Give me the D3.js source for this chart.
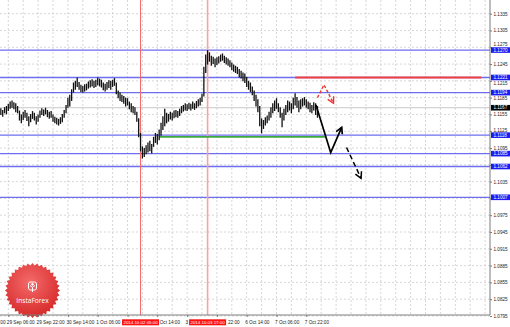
<!DOCTYPE html>
<html><head><meta charset="utf-8">
<script src="https://cdn.jsdelivr.net/npm/d3@7"></script>
<style>html,body{margin:0;padding:0;background:#fff;overflow:hidden}</style>
</head><body><svg id="c" width="510" height="327"></svg>
<script>
// ---- data (hourly bars, index 0 = 29 Sep 06:00) ----
const barStart = -4;
const lows = [
1.1155,1.1152,1.1158,1.1156,1.1162,1.1166,1.1168,1.1165,1.1160,1.1158,
1.1145,1.1140,1.1146,1.1150,1.1144,1.1135,1.1142,1.1148,1.1145,1.1138,
1.1143,1.1150,1.1155,1.1153,1.1156,1.1151,1.1148,1.1150,1.1143,1.1140,
1.1138,1.1136,1.1139,1.1142,1.1150,1.1158,1.1168,1.1170,1.1180,1.1195,
1.1200,1.1205,1.1200,1.1196,1.1195,1.1197,1.1199,1.1202,1.1204,1.1206,
1.1203,1.1205,1.1208,1.1206,1.1204,1.1199,1.1197,1.1200,1.1203,1.1200,
1.1205,1.1207,1.1192,1.1185,1.1180,1.1178,1.1175,1.1170,1.1172,1.1165,
1.1160,1.1158,1.1155,1.1143,1.1115,1.1090,1.1077,1.1080,1.1085,1.1088,
1.1090,1.1086,1.1098,1.1105,1.1102,1.1110,1.1118,1.1128,1.1135,1.1140,
1.1143,1.1147,1.1145,1.1149,1.1151,1.1150,1.1153,1.1158,1.1161,1.1163,
1.1162,1.1165,1.1163,1.1166,1.1164,1.1167,1.1170,1.1172,1.1178,1.1188,
1.1230,1.1245,1.1250,1.1243,1.1246,1.1240,1.1244,1.1247,1.1250,1.1252,
1.1248,1.1245,1.1243,1.1240,1.1235,1.1232,1.1230,1.1228,1.1222,1.1220,
1.1215,1.1212,1.1205,1.1200,1.1196,1.1190,1.1180,1.1170,1.1160,1.1135,
1.1122,1.1130,1.1136,1.1140,1.1145,1.1150,1.1158,1.1162,1.1166,1.1160,
1.1150,1.1133,1.1145,1.1155,1.1160,1.1163,1.1158,1.1165,1.1172,1.1168,
1.1160,1.1165,1.1170,1.1172,1.1168,1.1165,1.1160,1.1158,1.1163,1.1155,1.1150];
const highs = [
1.1166,1.1163,1.1168,1.1170,1.1174,1.1178,1.1180,1.1177,1.1175,1.1170,
1.1162,1.1155,1.1160,1.1163,1.1158,1.1152,1.1156,1.1161,1.1158,1.1152,
1.1155,1.1162,1.1166,1.1164,1.1167,1.1163,1.1160,1.1161,1.1155,1.1151,
1.1149,1.1147,1.1150,1.1156,1.1163,1.1172,1.1185,1.1190,1.1200,1.1212,
1.1215,1.1221,1.1213,1.1208,1.1206,1.1209,1.1210,1.1214,1.1216,1.1218,
1.1215,1.1217,1.1221,1.1219,1.1217,1.1212,1.1210,1.1213,1.1216,1.1215,
1.1217,1.1220,1.1212,1.1198,1.1194,1.1190,1.1188,1.1185,1.1184,1.1178,
1.1175,1.1170,1.1168,1.1160,1.1148,1.1122,1.1098,1.1095,1.1100,1.1105,
1.1108,1.1102,1.1115,1.1122,1.1120,1.1128,1.1140,1.1152,1.1165,1.1158,
1.1156,1.1160,1.1158,1.1162,1.1163,1.1161,1.1165,1.1170,1.1172,1.1175,
1.1173,1.1176,1.1174,1.1178,1.1175,1.1179,1.1182,1.1185,1.1192,1.1240,
1.1262,1.1270,1.1266,1.1260,1.1258,1.1255,1.1257,1.1259,1.1262,1.1264,
1.1260,1.1257,1.1255,1.1252,1.1248,1.1244,1.1242,1.1240,1.1236,1.1233,
1.1230,1.1228,1.1222,1.1215,1.1212,1.1205,1.1198,1.1190,1.1182,1.1170,
1.1148,1.1145,1.1150,1.1153,1.1160,1.1168,1.1175,1.1180,1.1184,1.1175,
1.1168,1.1158,1.1165,1.1172,1.1180,1.1178,1.1175,1.1185,1.1193,1.1186,
1.1180,1.1182,1.1184,1.1186,1.1182,1.1178,1.1176,1.1172,1.1177,1.1175,1.1170];

const timeTicks = [-16,0,16,32,48,64,80,96,112,128,144,160];
const timeLabels = ["26 Sep 14:00","29 Sep 06:00","29 Sep 22:00","30 Sep 14:00","1 Oct 06:00","1 Oct 22:00",
  "2 Oct 14:00","3 Oct 06:00","3 Oct 22:00","6 Oct 14:00","7 Oct 06:00","7 Oct 22:00"];
const priceTicks = [1.0795,1.0825,1.0855,1.0885,1.0915,1.0945,1.0975,1.1005,1.1035,1.1065,1.1095,
  1.1125,1.1155,1.1185,1.1215,1.1245,1.1275,1.1305,1.1335];
const levelPrices = [1.1270,1.1221,1.1194,1.1118,1.1085,1.1062,1.1007];
const levelLabels = ["1.1270","1.1221","1.1194","1.1118","1.1085","1.1062","1.1007"];
const currentPrice = 1.1167;
const currentLabel = "1.1167";
const vLineBars = [71, 107];
const vLineLabels = ["2014.10.02 05:00","2014.10.03 17:00"];
const greenPrice = 1.1115, greenBars = [81, 170];
const redPrice = 1.1221, redBars = [154, 254];
const redArrowBars = [166, 169.5, 174.6], redArrowPrices = [1.1185, 1.1208, 1.1175];
const blackArrowBars = [165.2, 173.1, 179.0], blackArrowPrices = [1.1172, 1.1087, 1.1132];
const dashArrowBars = [181.6, 189.4], dashArrowPrices = [1.1096, 1.1041];

// ---- layout ----
const W = 510, H = 327, plotR = 490, plotB = 315;
const FONT = "'Liberation Sans', Arial, sans-serif";
const x = d3.scaleLinear().domain([0, 160]).range([8.3, 306.3]);
const y = d3.scaleLinear().domain([1.1007, 1.1221]).range([197.3, 77.5]);
const svg = d3.select('#c');
svg.append('rect').attr('width', W).attr('height', H).attr('fill', '#fff');

// grid
const gridBars = d3.range(0, 300, 8).filter(d => x(d) < plotR);
svg.append('g').selectAll('line').data(gridBars).join('line')
  .attr('x1', d => x(d)).attr('x2', d => x(d)).attr('y1', 0).attr('y2', plotB)
  .attr('stroke', '#cdcdcd').attr('stroke-width', 0.8).attr('stroke-dasharray', '2,2');
svg.append('g').selectAll('line').data(priceTicks).join('line')
  .attr('x1', 0).attr('x2', plotR).attr('y1', d => y(d)).attr('y2', d => y(d))
  .attr('stroke', '#cdcdcd').attr('stroke-width', 0.8).attr('stroke-dasharray', '2,2');

// current price line
svg.append('line').attr('x1', 0).attr('x2', plotR).attr('y1', y(currentPrice)).attr('y2', y(currentPrice))
  .attr('stroke', '#c8c8c8').attr('stroke-width', 1);

// horizontal levels
svg.append('g').selectAll('line').data(levelPrices).join('line')
  .attr('x1', 0).attr('x2', plotR).attr('y1', d => y(d)).attr('y2', d => y(d))
  .attr('stroke', '#6e6ef0').attr('stroke-width', 1.3);

// vertical lines
svg.append('g').selectAll('line').data(vLineBars).join('line')
  .attr('x1', d => x(d)).attr('x2', d => x(d)).attr('y1', 0).attr('y2', plotB)
  .attr('stroke', (d, i) => i === 0 ? '#f26a6a' : '#f5a2a2').attr('stroke-width', (d, i) => i === 0 ? 1 : 1.6);

// green & red levels
svg.append('line').attr('x1', x(greenBars[0])).attr('x2', x(greenBars[1]))
  .attr('y1', y(greenPrice)).attr('y2', y(greenPrice)).attr('stroke', '#3caa3c').attr('stroke-width', 1.6);
svg.append('line').attr('x1', x(redBars[0])).attr('x2', x(redBars[1]))
  .attr('y1', y(redPrice)).attr('y2', y(redPrice)).attr('stroke', '#ee4040').attr('stroke-width', 2);

// bars
const bars = lows.map((l, i) => ({n: barStart + i, lo: l, hi: highs[i]}));
svg.append('g').selectAll('line').data(bars).join('line')
  .attr('x1', d => x(d.n)).attr('x2', d => x(d.n))
  .attr('y1', d => y(d.hi)).attr('y2', d => y(d.lo) + 0.5)
  .attr('stroke', '#111').attr('stroke-width', 1.3);

// arrows
function drawArrow(bs, ps, color, dash, w) {
  const pts = bs.map((b, i) => [x(b), y(ps[i])]);
  const g = svg.append('g').attr('fill', 'none').attr('stroke', color).attr('stroke-width', w);
  g.append('path').attr('d', d3.line()(pts)).attr('stroke-dasharray', dash || null);
  const tip = pts[pts.length - 1], prev = pts[pts.length - 2];
  const a = Math.atan2(tip[1] - prev[1], tip[0] - prev[0]);
  const L = 7, sp = 0.5;
  const p1 = [tip[0] - L * Math.cos(a - sp), tip[1] - L * Math.sin(a - sp)];
  const p2 = [tip[0] - L * Math.cos(a + sp), tip[1] - L * Math.sin(a + sp)];
  g.append('path').attr('d', d3.line()([p1, tip, p2]));
}
drawArrow(redArrowBars, redArrowPrices, '#f03030', '3,2', 1.4);
drawArrow(blackArrowBars, blackArrowPrices, '#000', null, 1.7);
drawArrow(dashArrowBars, dashArrowPrices, '#000', '5,3', 1.5);

// logo
const defs = svg.append('defs');
const grad = defs.append('radialGradient').attr('id', 'lg').attr('cx', '45%').attr('cy', '35%').attr('r', '70%');
grad.append('stop').attr('offset', '0%').attr('stop-color', '#f46a6a');
grad.append('stop').attr('offset', '100%').attr('stop-color', '#d42525');
const cx = 32.5, cy = 290.5, N = 36;
const star = d3.range(2 * N).map(k => {
  const r = k % 2 === 0 ? 27.5 : 25, t = k * Math.PI / N;
  return [cx + r * Math.cos(t), cy + r * Math.sin(t)];
});
svg.append('path').attr('d', d3.line()(star) + 'Z').attr('fill', 'url(#lg)');
const ic = svg.append('g').attr('stroke', '#fff').attr('fill', 'none').attr('stroke-width', 1);
ic.append('rect').attr('x', cx - 4).attr('y', 282).attr('width', 8).attr('height', 8).attr('rx', 2);
ic.append('circle').attr('cx', cx).attr('cy', 284.3).attr('r', 0.9).attr('fill', '#fff');
ic.append('path').attr('d', `M${cx - 2.5},285.5 L${cx},287.3 L${cx + 2.5},285.5 M${cx},287.3 L${cx},292`);
svg.append('text').attr('x', cx).attr('y', 302.5).attr('text-anchor', 'middle')
  .attr('fill', '#fff').attr('font-family', "'Open Sans', Arial, sans-serif").attr('font-size', 6.6).text('InstaForex');

// frame
svg.append('line').attr('x1', plotR).attr('x2', plotR).attr('y1', 0).attr('y2', plotB).attr('stroke', '#7a7a7a').attr('stroke-width', 1);
svg.append('line').attr('x1', 0).attr('x2', plotR).attr('y1', plotB).attr('y2', plotB).attr('stroke', '#7a7a7a').attr('stroke-width', 1);

// right axis (labels hidden under / nudged away from the level boxes, as in the terminal)
const boxYs = levelPrices.concat([currentPrice]).map(p => y(p));
const gY = svg.append('g').attr('transform', `translate(${plotR},0)`)
  .call(d3.axisRight(y).tickValues(priceTicks).tickFormat(d3.format('.4f')).tickSize(2).tickPadding(1.5));
gY.select('.domain').remove();
gY.attr('font-size', 4.6).attr('font-family', FONT);
gY.selectAll('line').attr('stroke', '#777');
gY.selectAll('text').attr('fill', '#222').each(function (d) {
  const ty = y(d);
  let best = null;
  boxYs.forEach(by => { if (best === null || Math.abs(ty - by) < Math.abs(ty - best)) best = by; });
  const dd = ty - best;
  if (Math.abs(dd) < 2.5) d3.select(this).remove();
  else if (Math.abs(dd) < 5.6) d3.select(this).attr('y', (dd < 0 ? -5.6 : 5.6) - dd);
});

// bottom axis ticks
const gX = svg.append('g').attr('transform', `translate(0,${plotB})`)
  .call(d3.axisBottom(x).tickValues(timeTicks).tickFormat('').tickSize(2));
gX.select('.domain').remove();
gX.selectAll('line').attr('stroke', '#777');

// time labels: the parts covered by the red time boxes or the left edge are not shown
const covers = vLineBars.map(b => [x(b) - 18.5, x(b) + 18.5]);
const gl = svg.append('g').attr('font-family', FONT).attr('font-size', 4.7).attr('fill', '#222');
timeTicks.forEach((t, i) => {
  const s = timeLabels[i];
  const el = gl.append('text').attr('x', x(t) - 1.5).attr('y', 323.7).text(s);
  const node = el.node();
  const pos = Array.from(s, (ch, k) => [node.getStartPositionOfChar(k).x, node.getEndPositionOfChar(k).x]);
  const vis = pos.map(([a, b]) => (a + b) / 2 >= 0.5);
  let k = 0;
  s.split(' ').forEach(w => {
    if (w.length) {
      const c = (pos[k][0] + pos[k + w.length - 1][1]) / 2;
      if (covers.some(([l, r]) => c > l && c < r)) for (let j = k; j < k + w.length; j++) vis[j] = false;
    }
    k += w.length + 1;
  });
  let best = [0, -1], st = -1;
  for (let j = 0; j <= s.length; j++) {
    if (j < s.length && vis[j]) { if (st < 0) st = j; }
    else if (st >= 0) { if (j - 1 - st > best[1] - best[0]) best = [st, j - 1]; st = -1; }
  }
  let [a, b] = best;
  while (a <= b && s[a] === ' ') a++;
  while (b >= a && s[b] === ' ') b--;
  if (a > b) { el.remove(); return; }
  el.attr('x', Math.max(0.3, pos[a][0])).text(s.slice(a, b + 1));
});

// price boxes
const boxes = levelPrices.map((p, i) => ({p, t: levelLabels[i], c: '#1c1cf2'}))
  .concat([{p: currentPrice, t: currentLabel, c: '#000'}]);
const gb = svg.append('g').attr('font-family', FONT).attr('font-size', 4.6);
gb.selectAll('rect').data(boxes).join('rect')
  .attr('x', 491).attr('y', d => y(d.p) - 2.8).attr('width', 19).attr('height', 5.6).attr('fill', d => d.c);
gb.selectAll('text').data(boxes).join('text')
  .attr('x', 493.5).attr('y', d => y(d.p) + 1.6).attr('fill', '#fff').text(d => d.t);

// time boxes for vertical lines
const gt = svg.append('g').attr('font-family', FONT).attr('font-size', 4.4);
gt.selectAll('rect').data(vLineBars).join('rect')
  .attr('x', d => x(d) - 18.5).attr('y', 319.3).attr('width', 37).attr('height', 6).attr('fill', '#ff1010');
gt.selectAll('text').data(vLineBars).join('text')
  .attr('x', d => x(d)).attr('y', 323.9).attr('text-anchor', 'middle').attr('fill', '#fff')
  .text((d, i) => vLineLabels[i]);
</script></body></html>
